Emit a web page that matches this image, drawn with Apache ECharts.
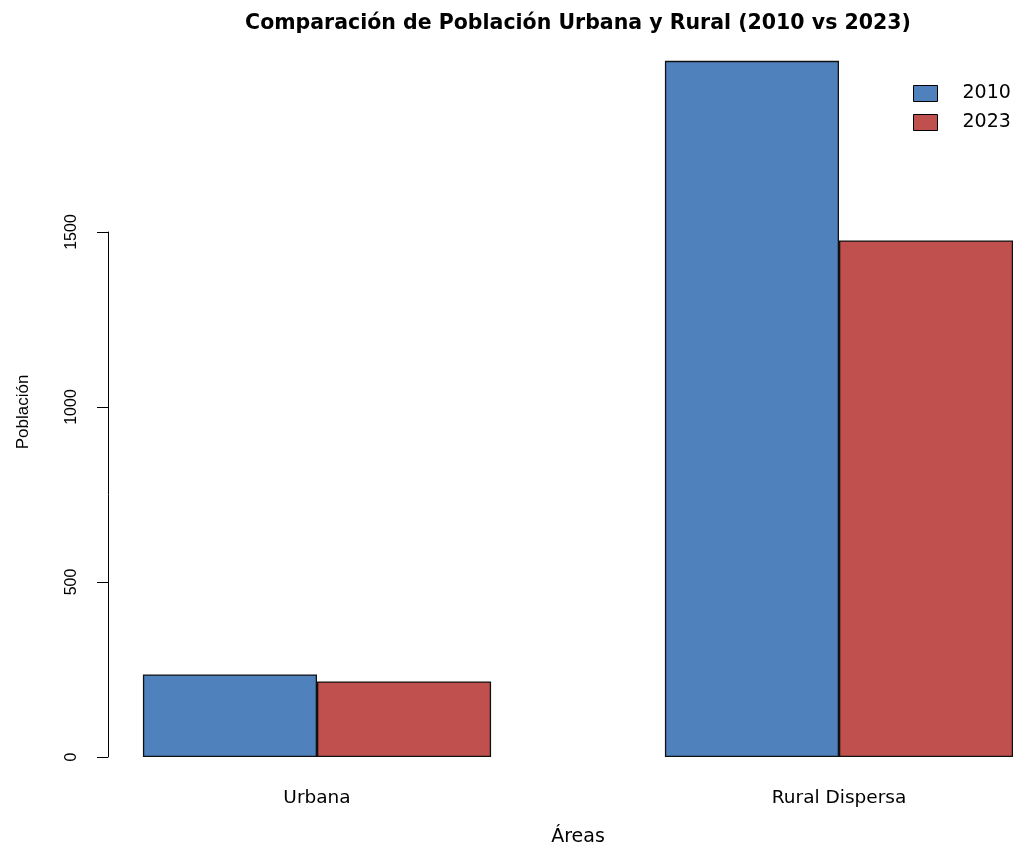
<!DOCTYPE html>
<html>
<head>
<meta charset="utf-8">
<script src="https://cdn.jsdelivr.net/npm/echarts@6/dist/echarts.min.js"></script>
<style>
  html, body { margin: 0; padding: 0; overflow: hidden; background: #fff; }
  #chart { width: 1156px; height: 843px; }
</style>
</head>
<body>
<div id="chart"></div>
<script>
// datos
const areas = ['Urbana', 'Rural Dispersa'];
const pob2010 = [236, 1989];
const pob2023 = [216, 1476];
const colores = ['#4F81BD', '#C0504D'];

const fuente = '"Liberation Sans", Arial, sans-serif';
const fuenteAncha = 'DejaVu Sans, sans-serif';
const myChart = echarts.init(document.getElementById('chart'));

myChart.setOption({
    animation: false,
    title: {
        text: 'Comparación de Población Urbana y Rural (2010 vs 2023)',
        left: 'center',
        top: 8,
        textStyle: { fontFamily: fuenteAncha, fontSize: 20.5, fontWeight: 'bold', color: '#000' }
    },
    legend: {
        orient: 'vertical',
        left: 908,
        top: 79,
        itemWidth: 24,
        itemHeight: 16,
        itemGap: 10,
        icon: 'rect',
        itemStyle: { borderColor: '#000', borderWidth: 1 },
        textStyle: { fontFamily: fuenteAncha, fontSize: 19, color: '#000', padding: [0, 0, 0, 20] },
        data: ['2010', '2023']
    },
    color: colores,
    grid: { left: 56, right: 56, top: 232, bottom: 86, outerBoundsMode: 'none' },
    xAxis: {
        type: 'category',
        data: areas,
        axisLine: { show: false },
        axisTick: { show: false },
        axisLabel: { margin: 32, fontFamily: fuenteAncha, fontSize: 18.5, color: '#000' },
        name: 'Áreas',
        nameLocation: 'middle',
        nameGap: 71,
        nameTextStyle: { fontFamily: fuenteAncha, fontSize: 19, color: '#000' }
    },
    yAxis: {
        type: 'value',
        min: 0,
        max: 1500,
        interval: 500,
        offset: -52,
        axisLine: { show: true, lineStyle: { color: '#000', width: 1 } },
        axisTick: { show: true, length: 11, lineStyle: { color: '#000' } },
        splitLine: { show: false },
        axisLabel: {
            rotate: 90, margin: 28, fontFamily: fuente, fontSize: 16, color: '#000',
            formatter: v => String(v)
        },
        name: 'Población',
        nameLocation: 'middle',
        nameRotate: 90,
        nameGap: 76,
        nameTextStyle: { fontFamily: fuente, fontSize: 17, color: '#000', padding: [0, 0, 0, 165] }
    },
    series: [
        {
            name: '2010',
            type: 'bar',
            data: pob2010,
            barGap: 0,
            barCategoryGap: '33.3%',
            clip: false,
            itemStyle: { borderColor: '#111', borderWidth: 1.3 }
        },
        {
            name: '2023',
            type: 'bar',
            data: pob2023,
            clip: false,
            itemStyle: { borderColor: '#111', borderWidth: 1.3 }
        }
    ]
});
</script>
</body>
</html>
